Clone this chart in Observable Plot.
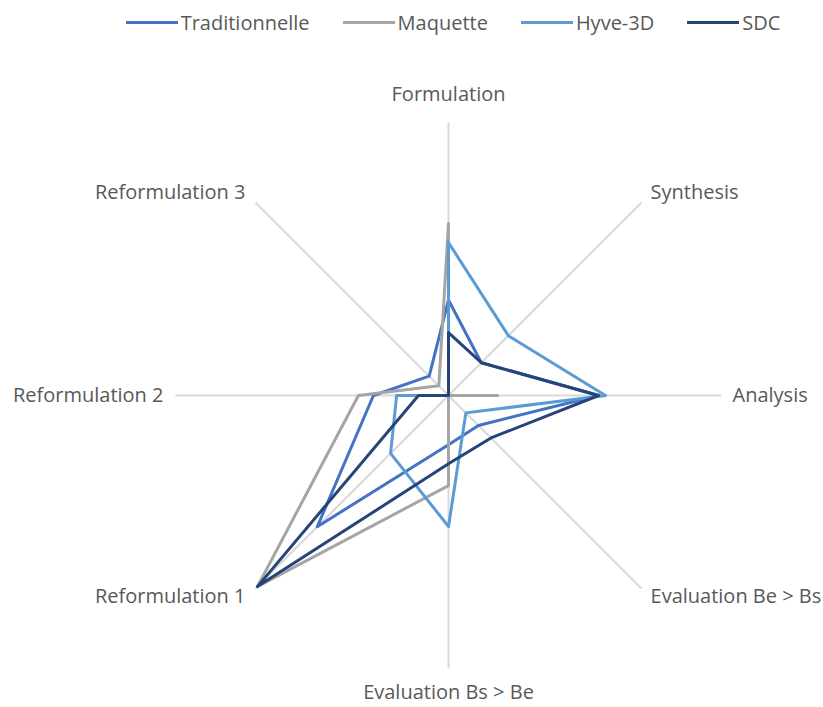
<!DOCTYPE html>
<html>
<head>
<meta charset="utf-8">
<script src="https://cdn.jsdelivr.net/npm/d3@7"></script>
<script src="https://cdn.jsdelivr.net/npm/@observablehq/plot@0.6"></script>
<style>
  html, body { margin: 0; padding: 0; background: #fff; }
  body { width: 823px; height: 707px; overflow: hidden; font-family: "Open Sans", Lato, sans-serif; }
  #legend { height: 45px; display: flex; justify-content: center; align-items: center; gap: 33px; padding-left: 83px; box-sizing: border-box; color: #595959; font-size: 20px; }
  #legend .item { display: flex; align-items: center; gap: 3px; }
  #legend .sw { width: 52px; height: 3px; }
</style>
</head>
<body>
<div id="legend"></div>
<div id="chart"></div>
<script>
const axes = ["Formulation", "Synthesis", "Analysis", "Evaluation Be > Bs", "Evaluation Bs > Be", "Reformulation 1", "Reformulation 2", "Reformulation 3"];
const seriesNames = ["Traditionnelle", "Maquette", "Hyve-3D", "SDC"];
const seriesColors = ["#4472C4", "#A5A5A5", "#5B9BD5", "#264478"];
const traditionnelle = [0.35, 0.17, 0.55, 0.155, 0.18, 0.68, 0.275, 0.10];
const maquette       = [0.63, 0.00, 0.18, 0.00, 0.33, 0.99, 0.33, 0.05];
const hyve3d         = [0.56, 0.31, 0.575, 0.09, 0.48, 0.30, 0.19, 0.00];
const sdc            = [0.23, 0.17, 0.55, 0.22, 0.25, 0.99, 0.11, 0.00];
const seriesValues = [traditionnelle, maquette, hyve3d, sdc];

const n = axes.length;
const ang = i => (i % n) * 2 * Math.PI / n;

const rows = [];
seriesNames.forEach((s, k) => {
  for (let i = 0; i <= n; i++) {
    const v = seriesValues[k][i % n];
    rows.push({series: s, x: v * Math.sin(ang(i)), y: v * Math.cos(ang(i))});
  }
});
const spokes = axes.map((a, i) => ({axis: a, x: Math.sin(ang(i)), y: Math.cos(ang(i))}));
const lab = idx => spokes.filter((d, i) => idx.includes(i));

const legend = document.getElementById("legend");
seriesNames.forEach((s, k) => {
  const it = document.createElement("div");
  it.className = "item";
  it.innerHTML = `<div class="sw" style="background:${seriesColors[k]}"></div><span>${s}</span>`;
  legend.appendChild(it);
});

const fs = 20;
const chart = Plot.plot({
  width: 823,
  height: 662,
  x: {domain: [-1, 1], range: [175, 721], axis: null},
  y: {domain: [-1, 1], range: [623, 77], axis: null},
  color: {domain: seriesNames, range: seriesColors},
  style: {fontFamily: "'Open Sans', Lato, sans-serif", color: "#595959"},
  marks: [
    Plot.link(spokes, {x1: 0, y1: 0, x2: "x", y2: "y", stroke: "#D9D9D9", strokeWidth: 2}),
    Plot.line(rows, {x: "x", y: "y", z: "series", stroke: "series", strokeWidth: 3, strokeLinejoin: "round", curve: "linear"}),
    Plot.text(lab([0]), {x: "x", y: "y", text: "axis", dy: -28, fontSize: fs, fill: "#595959"}),
    Plot.text(lab([4]), {x: "x", y: "y", text: "axis", dy: 24, fontSize: fs, fill: "#595959"}),
    Plot.text(lab([2]), {x: "x", y: "y", text: "axis", dx: 11, textAnchor: "start", fontSize: fs, fill: "#595959"}),
    Plot.text(lab([6]), {x: "x", y: "y", text: "axis", dx: -12, textAnchor: "end", fontSize: fs, fill: "#595959"}),
    Plot.text(lab([1]), {x: "x", y: "y", text: "axis", dx: 9, dy: -10, textAnchor: "start", fontSize: fs, fill: "#595959"}),
    Plot.text(lab([3]), {x: "x", y: "y", text: "axis", dx: 9, dy: 8, textAnchor: "start", fontSize: fs, fill: "#595959"}),
    Plot.text(lab([5]), {x: "x", y: "y", text: "axis", dx: -10, dy: 8, textAnchor: "end", fontSize: fs, fill: "#595959"}),
    Plot.text(lab([7]), {x: "x", y: "y", text: "axis", dx: -10, dy: -10, textAnchor: "end", fontSize: fs, fill: "#595959"})
  ]
});
document.getElementById("chart").appendChild(chart);
</script>
</body>
</html>
